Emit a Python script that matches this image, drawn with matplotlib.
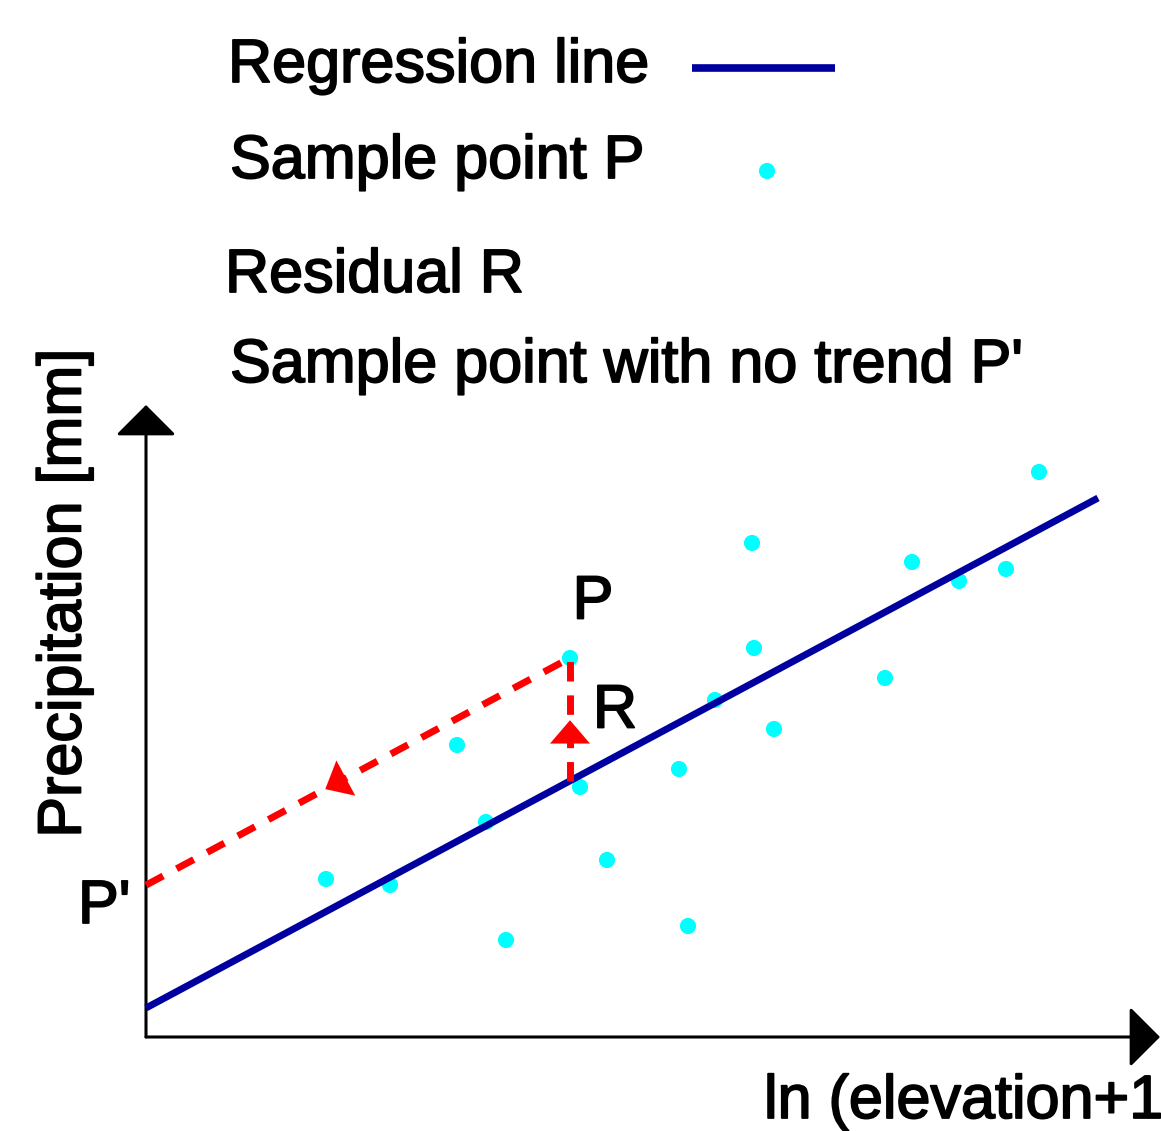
import numpy as np
import matplotlib.pyplot as plt
from matplotlib import patheffects

plt.rcParams['font.family'] = ['Liberation Sans', 'DejaVu Sans']

# schematic units (x: ln(elevation+1), y: precipitation), origin at the axes corner
sample_x = [89.3, 60.6, 76.6, 86.0, 81.3, 60.8, 73.9, 56.9, 62.8, 53.3, 54.2,
            42.4, 31.1, 43.4, 34.0, 46.1, 18.0, 24.4, 36.0]
sample_y = [56.5, 49.4, 47.5, 46.8, 45.6, 38.9, 35.9, 33.7, 30.8, 26.8, 11.1,
            37.9, 29.2, 25.0, 21.5, 17.7, 15.8, 15.2, 9.7]
line_x = [0.0, 95.2]
line_y = [2.9, 53.9]
p_idx = 11  # the highlighted sample point P

legend_labels = ['Regression line', 'Sample point P', 'Residual R', "Sample point with no trend P'"]
x_label = 'ln (elevation+1)'
y_label = 'Precipitation [mm]'

navy = '#0000A0'
cyan = '#00FFFF'
red = '#FF0000'

fig = plt.figure(figsize=(11.61, 11.31), dpi=100)
ax = fig.add_axes([0, 0, 1, 1])
ax.set_xlim(-14.6, 101.5)
ax.set_ylim(-9.4, 103.7)
ax.axis('off')

# axes with arrow heads
arrow_kw = dict(arrowstyle='-|>,head_length=0.8,head_width=0.8', lw=2.2, color='black',
                mutation_scale=24, shrinkA=0, shrinkB=0)
ax.annotate('', xy=(0, 63.2), xytext=(0, 0), arrowprops=arrow_kw)
ax.annotate('', xy=(101.4, 0), xytext=(0, 0), arrowprops=arrow_kw)

# regression line and samples
ax.plot(line_x, line_y, color=navy, lw=5, solid_capstyle='butt', zorder=3)
ax.scatter(sample_x, sample_y, s=135, color=cyan, edgecolors='none', zorder=2)

# residual and de-trended point
px, py = sample_x[p_idx], sample_y[p_idx]
slope = (line_y[1] - line_y[0]) / (line_x[1] - line_x[0])
foot_y = line_y[0] + slope * px
p0_y = py - slope * px
ax.plot([px, px], [foot_y, py], color=red, lw=5, ls=(0, (2.8, 2.0)), zorder=4)
ax.plot([0, px], [p0_y, py], color=red, lw=5, ls=(0, (2.8, 2.2)), zorder=4)
head_kw = dict(arrowstyle='-|>,head_length=0.7,head_width=0.6', color=red, lw=0,
               mutation_scale=24, shrinkA=0, shrinkB=0)
ry = foot_y + 0.29 * (py - foot_y)
ax.annotate('', xy=(px, ry + 2.5), xytext=(px, ry), arrowprops=head_kw, zorder=5)
mx = 0.47 * px
ax.annotate('', xy=(mx - 2.0, p0_y + slope * (mx - 2.0)), xytext=(mx, p0_y + slope * mx),
            arrowprops=head_kw, zorder=5)

fs = 44
bold = [patheffects.withStroke(linewidth=1.3, foreground='black')]
ax.text(44.7, 43.4, 'P', fontsize=fs, ha='center', va='center', path_effects=bold)
ax.text(46.9, 32.5, 'R', fontsize=fs, ha='center', va='center', path_effects=bold)
ax.text(-6.8, 11.4, "P'", fontsize=fs, va='baseline', path_effects=bold)

# legend drawn as text
ax.text(8.2, 95.5, legend_labels[0], fontsize=fs, va='baseline', path_effects=bold)
ax.plot([54.6, 68.9], [96.9, 96.9], color=navy, lw=5.5, solid_capstyle='butt')
ax.text(8.4, 85.9, legend_labels[1], fontsize=fs, va='baseline', path_effects=bold)
ax.scatter([62.1], [86.6], s=135, color=cyan, edgecolors='none')
ax.text(7.9, 74.5, legend_labels[2], fontsize=fs, va='baseline', path_effects=bold)
ax.text(8.4, 65.5, legend_labels[3], fontsize=fs, va='baseline', path_effects=bold)

ax.text(-8.1, 44.4, y_label, fontsize=fs, rotation=90, ha='center', va='center',
        path_effects=bold)
ax.text(61.8, -8.1, x_label, fontsize=fs, va='baseline', path_effects=bold)

plt.savefig('out.png', dpi=100)
